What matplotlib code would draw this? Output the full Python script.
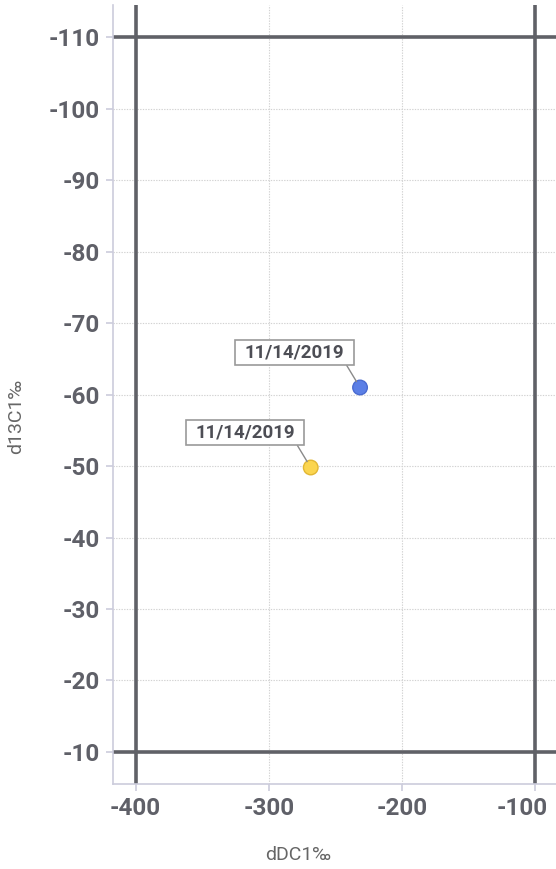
import matplotlib
matplotlib.use("Agg")
import matplotlib.pyplot as plt
from matplotlib.path import Path
from matplotlib.transforms import ScaledTranslation

plt.rcParams['font.family'] = ['Roboto', 'DejaVu Sans']

# Data
x_vals = [-231.6, -268.6]
y_vals = [-61.0, -49.8]
point_colors = ['#5b7fe6', '#fbd54f']
edge_colors = ['#4a6bd0', '#e2b733']
labels = ['11/14/2019', '11/14/2019']
x_ticks = [-400, -300, -200, -100]
y_ticks = [-110, -100, -90, -80, -70, -60, -50, -40, -30, -20, -10]
ref_x = [-400, -100]
ref_y = [-110, -10]


def wide_box(x0, y0, width, height, mutation_size):
    padx = 0.5 * mutation_size
    pady = 0.18 * mutation_size
    x0 -= padx
    y0 -= pady
    x1 = x0 + width + 2 * padx
    y1 = y0 + height + 2 * pady
    return Path([(x0, y0), (x1, y0), (x1, y1), (x0, y1), (x0, y0)], closed=True)


fig = plt.figure(figsize=(5.56, 8.69), dpi=100)
ax = fig.add_axes([0.2038, 0.0978, 0.7962, 0.897])

ax.set_xlim(-416.7, -84.6)
ax.set_ylim(-5.5, -114.6)

ax.set_xticks(x_ticks)
ax.set_yticks(y_ticks)
ax.set_xticklabels([str(v) for v in x_ticks])
ax.set_yticklabels([str(v) for v in y_ticks])

ax.grid(True, linestyle=(0, (1.2, 1.2)), color='#d2d2d2', linewidth=0.8)
ax.set_axisbelow(True)

for s in ['top', 'right']:
    ax.spines[s].set_visible(False)
for s in ['left', 'bottom']:
    ax.spines[s].set_color('#ccccdc')
    ax.spines[s].set_linewidth(1.2)

ax.tick_params(axis='both', colors='#ccccdc', length=5, width=1.2,
               labelcolor='#5f6068', labelsize=17.5, pad=4.5)
for lab in ax.get_xticklabels() + ax.get_yticklabels():
    lab.set_fontweight('bold')

# keep the last x tick label inside the figure (shifted left like the reference)
last = ax.get_xticklabels()[-1]
last.set_transform(last.get_transform() + ScaledTranslation(-13.5 / 100, 0, fig.dpi_scale_trans))

for xv in ref_x:
    ax.axvline(xv, color='#606167', linewidth=2.6, zorder=2)
for yv in ref_y:
    ax.axhline(yv, color='#606167', linewidth=2.6, zorder=2)

ax.scatter(x_vals, y_vals, s=110, c=point_colors, edgecolors=edge_colors,
           linewidths=1.0, zorder=5)

for xv, yv, lab in zip(x_vals, y_vals, labels):
    ax.annotate(lab, xy=(xv, yv), xytext=(-47.2, 25.2), textcoords='offset points',
                ha='center', va='center', fontsize=13.5, fontweight='bold',
                color='#4d4e55',
                bbox=dict(boxstyle=wide_box, fc='white', ec='#9a9a9a', lw=1.2),
                arrowprops=dict(arrowstyle='-', color='#8a8a8a', lw=1.0,
                                relpos=(1.0, 0.0), shrinkA=0, shrinkB=5),
                zorder=6)

fig.text(298.5 / 556, 1 - 855 / 869, 'dDC1‰', fontsize=14, color='#666666',
         ha='center', va='center')
fig.text(16 / 556, 1 - 416 / 869, 'd13C1‰', fontsize=14, color='#666666',
         ha='center', va='center', rotation=90)

fig.savefig('out.png', dpi=100)
